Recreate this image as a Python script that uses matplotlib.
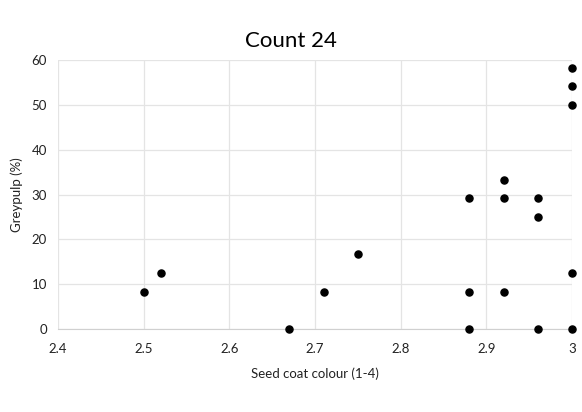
import matplotlib.pyplot as plt

plt.rcParams['font.family'] = ['Lato', 'DejaVu Sans']

# Данные
seed_coat = [2.5, 2.52, 2.67, 2.71, 2.75, 2.88, 2.88, 2.88, 2.92, 2.92, 2.92,
             2.96, 2.96, 2.96, 3.0, 3.0, 3.0, 3.0, 3.0]
greypulp = [8.3, 12.5, 0, 8.3, 16.7, 29.2, 8.3, 0, 33.3, 29.2, 8.3,
            29.2, 25.0, 0, 58.3, 54.2, 50.0, 12.5, 0]

x_ticks = [2.4, 2.5, 2.6, 2.7, 2.8, 2.9, 3.0]
x_tick_labels = ['2.4', '2.5', '2.6', '2.7', '2.8', '2.9', '3']
y_ticks = [0, 10, 20, 30, 40, 50, 60]

fig = plt.figure(figsize=(5.82, 4.12), dpi=100)
ax = fig.add_axes([0.0997, 0.2015, 0.8833, 0.6525])

ax.scatter(seed_coat, greypulp, s=26, color='black', zorder=3, clip_on=False)

ax.set_xlim(2.4, 3.0)
ax.set_ylim(0, 60)
ax.set_xticks(x_ticks)
ax.set_xticklabels(x_tick_labels)
ax.set_yticks(y_ticks)
ax.grid(color='#e4e4e4', linewidth=0.9)
ax.set_axisbelow(True)
for s in ['top', 'right', 'left']:
    ax.spines[s].set_visible(False)
ax.spines['bottom'].set_color('#d0d0d0')
ax.tick_params(length=0, labelsize=9.5, colors='#222222')
ax.tick_params(axis='x', pad=10)
ax.tick_params(axis='y', pad=8)

ax.set_xlabel('Seed coat colour (1-4)', fontsize=9.5, color='#222222', labelpad=9)
ax.set_ylabel('Greypulp (%)', fontsize=9.5, color='#222222', labelpad=6)
fig.suptitle('Count 24', fontsize=16, y=0.925)

fig.savefig('out.png', dpi=100)
